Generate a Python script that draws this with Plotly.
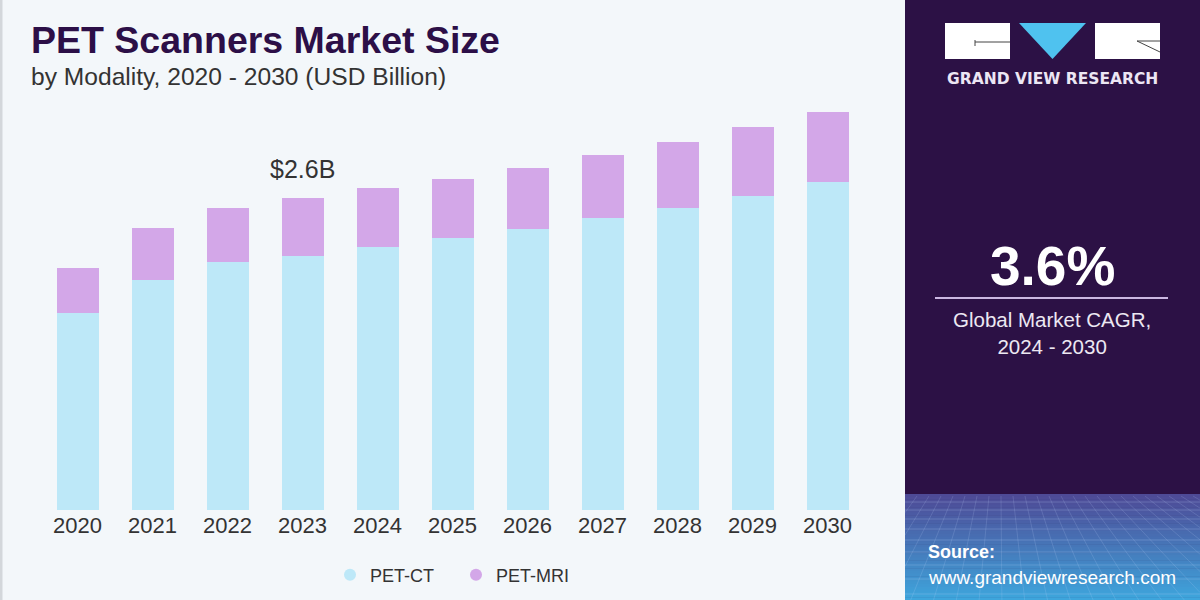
import plotly.graph_objects as go

# ---------------- data ----------------
years = ["2020", "2021", "2022", "2023", "2024", "2025", "2026", "2027", "2028", "2029", "2030"]
pet_ct = [1.64, 1.92, 2.07, 2.12, 2.19, 2.27, 2.34, 2.43, 2.52, 2.62, 2.73]
pet_mri = [0.38, 0.43, 0.45, 0.48, 0.49, 0.49, 0.51, 0.53, 0.55, 0.57, 0.59]
series_names = ["PET-CT", "PET-MRI"]
highlight_year = "2023"
highlight_label = "$2.6B"
cagr_value = "3.6%"
cagr_text = "Global Market CAGR,<br>2024 - 2030"
title_text = "PET Scanners Market Size"
subtitle_text = "by Modality, 2020 - 2030 (USD Billion)"

# ---------------- styling ----------------
CT_COLOR = "#bde8f8"
MRI_COLOR = "#d3a7e8"
BG = "#f3f7fa"
PANEL = "#2c1145"
FONT = "Liberation Sans, Arial, sans-serif"

W, H = 1200, 600
L, R, T, B = 40, 865, 100, 510   # plot area in pixels
PX_PER_UNIT = 120.0


def px(x):
    return (x - L) / (R - L)


def py(y):
    return (B - y) / (B - T)


fig = go.Figure()

fig.add_trace(go.Bar(x=years, y=pet_ct, name=series_names[0], marker_color=CT_COLOR,
                     marker_line_width=0, showlegend=False))
fig.add_trace(go.Bar(x=years, y=pet_mri, name=series_names[1], marker_color=MRI_COLOR,
                     marker_line_width=0, showlegend=False))

# legend entries with circular symbols (no visible points)
for nm, col in zip(series_names, [CT_COLOR, MRI_COLOR]):
    fig.add_trace(go.Scatter(x=[years[0]], y=[None], mode="markers", name=nm,
                             marker=dict(symbol="circle", size=15, color=col)))

shapes = []
# left thin border
shapes.append(dict(type="rect", xref="paper", yref="paper", x0=px(0), x1=px(2.5), y0=py(600), y1=py(0),
                   fillcolor="#d3d7db", line_width=0, layer="below"))
# right dark panel
PX0, PX1 = 905, 1200
shapes.append(dict(type="rect", xref="paper", yref="paper", x0=px(PX0), x1=px(PX1), y0=py(600), y1=py(0),
                   fillcolor=PANEL, line_width=0, layer="below"))

# gradient at bottom of panel
g_top, g_bot = 494, 600
n = 40
c0 = (78, 74, 150)
c1 = (62, 165, 220)
for i in range(n):
    t = i / (n - 1)
    c = tuple(int(round(c0[k] + (c1[k] - c0[k]) * t)) for k in range(3))
    y0 = g_top + (g_bot - g_top) * i / n
    y1 = g_top + (g_bot - g_top) * (i + 1) / n
    shapes.append(dict(type="rect", xref="paper", yref="paper", x0=px(PX0), x1=px(PX1),
                       y0=py(y1 + 0.5), y1=py(y0), fillcolor="rgb(%d,%d,%d)" % c, line_width=0, layer="below"))
# faint grid texture
for yy in [502, 510, 519, 529, 540, 552, 565, 579, 594]:
    shapes.append(dict(type="line", xref="paper", yref="paper", x0=px(PX0), x1=px(PX1), y0=py(yy), y1=py(yy),
                       line=dict(color="rgba(200,220,255,0.22)", width=1), layer="below"))
vx = 1000.0
for k in range(-12, 30):
    x0_ = PX0 + k * 12
    x1_ = vx + (x0_ - vx) * 1.9
    y0_, y1_ = 496.0, 600.0

    def yat(xc, a=(x0_, y0_), b=(x1_, y1_)):
        return a[1] + (b[1] - a[1]) * (xc - a[0]) / (b[0] - a[0])

    xs = [x0_, x1_]
    lo, hi_ = min(xs), max(xs)
    if hi_ < PX0 or lo > PX1:
        continue
    ya, yb = y0_, y1_
    xa, xb = x0_, x1_
    if xa < PX0:
        ya, xa = yat(PX0), PX0
    if xa > PX1:
        ya, xa = yat(PX1), PX1
    if xb < PX0:
        yb, xb = yat(PX0), PX0
    if xb > PX1:
        yb, xb = yat(PX1), PX1
    shapes.append(dict(type="line", xref="paper", yref="paper", x0=px(xa), x1=px(xb), y0=py(ya), y1=py(yb),
                       line=dict(color="rgba(200,220,255,0.16)", width=1), layer="below"))

# logo
shapes.append(dict(type="rect", xref="paper", yref="paper", x0=px(945), x1=px(1010), y0=py(59), y1=py(23),
                   fillcolor="white", line_width=0))
shapes.append(dict(type="line", xref="paper", yref="paper", x0=px(975), x1=px(1010), y0=py(42), y1=py(42),
                   line=dict(color="#444", width=1)))
shapes.append(dict(type="line", xref="paper", yref="paper", x0=px(975), x1=px(975), y0=py(40), y1=py(46),
                   line=dict(color="#444", width=1)))
shapes.append(dict(type="path", xref="paper", yref="paper",
                   path="M %f %f L %f %f L %f %f Z" % (px(1019), py(23), px(1086), py(23), px(1052.5), py(59)),
                   fillcolor="#4fc2ef", line_width=0))
shapes.append(dict(type="rect", xref="paper", yref="paper", x0=px(1095), x1=px(1160), y0=py(59), y1=py(23),
                   fillcolor="white", line_width=0))
shapes.append(dict(type="line", xref="paper", yref="paper", x0=px(1137), x1=px(1160), y0=py(41), y1=py(41),
                   line=dict(color="#444", width=1)))
shapes.append(dict(type="line", xref="paper", yref="paper", x0=px(1137), x1=px(1160), y0=py(41), y1=py(52),
                   line=dict(color="#444", width=1)))
# CAGR divider
shapes.append(dict(type="line", xref="paper", yref="paper", x0=px(935), x1=px(1168), y0=py(298), y1=py(298),
                   line=dict(color="#cbb7e2", width=2)))

annotations = []


def ann(text, x, y, size, color, xanchor="left", bold=False, family=FONT):
    if bold:
        text = "<b>%s</b>" % text
    annotations.append(dict(text=text, x=px(x), y=py(y), xref="paper", yref="paper", showarrow=False,
                            xanchor=xanchor, yanchor="middle", align="center" if xanchor == "center" else "left",
                            font=dict(size=size, color=color, family=family)))


ann(title_text, 29, 40, 37.5, "#2c0f47", bold=True)
ann(subtitle_text, 29, 77, 24.6, "#333333")
ann("GRAND VIEW RESEARCH", 1052.5, 79, 15.5, "#ece6f4", xanchor="center", bold=True,
    family="DejaVu Sans, sans-serif")
ann(cagr_value, 1052, 266, 55, "#ffffff", xanchor="center", bold=True)
ann(cagr_text, 1052, 333, 20.5, "#ece8f2", xanchor="center")
ann("Source:", 926, 552, 18, "#ffffff", bold=True)
ann("www.grandviewresearch.com", 926, 577, 19, "#ffffff")

# value label above highlighted bar (category index on a category axis)
hi = years.index(highlight_year)
annotations.append(dict(text=highlight_label, x=hi, y=pet_ct[hi] + pet_mri[hi], xref="x", yref="y",
                        showarrow=False, yanchor="bottom", yshift=13,
                        font=dict(size=25, color="#333333", family=FONT)))

fig.update_layout(
    width=W, height=H,
    margin=dict(l=L, r=W - R, t=T, b=H - B, pad=0, autoexpand=False),
    paper_bgcolor=BG, plot_bgcolor=BG,
    barmode="stack", bargap=0.44,
    font=dict(family=FONT, color="#333333"),
    shapes=shapes, annotations=annotations,
    xaxis=dict(type="category", categoryorder="array", categoryarray=years,
               range=[-0.5, len(years) - 0.5], autorange=False,
               showgrid=False, zeroline=False, showline=False, ticks="",
               tickfont=dict(size=22, color="#333333"), fixedrange=True),
    yaxis=dict(range=[0, (B - T) / PX_PER_UNIT], autorange=False, visible=False, showgrid=False,
               zeroline=False, fixedrange=True),
    legend=dict(orientation="h", x=px(456), xanchor="center", y=py(575), yanchor="middle",
                traceorder="normal",
                font=dict(size=18, color="#333333"), bgcolor="rgba(0,0,0,0)", itemsizing="constant",
                entrywidth=81),
    showlegend=True,
)

fig.write_html("out.html")
